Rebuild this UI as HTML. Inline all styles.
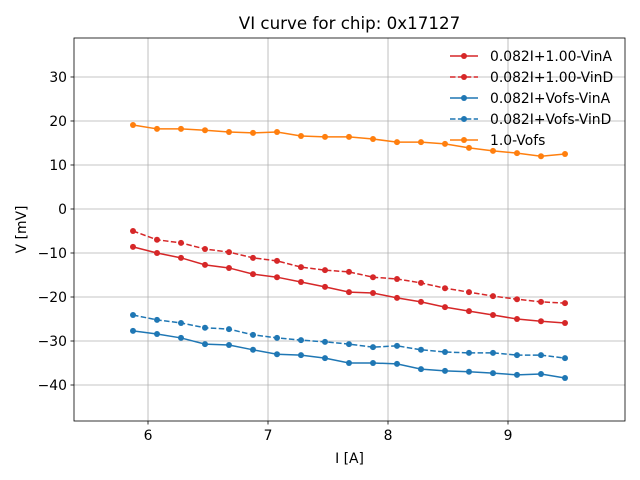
<!DOCTYPE html>
<html><head><meta charset="utf-8"><style>
html,body{margin:0;padding:0;background:#fff;}
svg{display:block;font-family:"DejaVu Sans","Liberation Sans",sans-serif;}
</style></head><body>
<svg id="chart" width="640" height="480" viewBox="0 0 640 480" xmlns="http://www.w3.org/2000/svg"></svg>
<script>
const currents = [5.875,6.075,6.275,6.475,6.675,6.875,7.075,7.275,7.475,7.675,7.875,8.075,8.275,8.475,8.675,8.875,9.075,9.275,9.475];
const redSolid = [-8.6,-10,-11.1,-12.7,-13.4,-14.8,-15.5,-16.6,-17.7,-18.9,-19.1,-20.2,-21.1,-22.3,-23.2,-24.1,-25,-25.5,-25.9];
const redDashed = [-5,-7,-7.7,-9.1,-9.8,-11.1,-11.8,-13.2,-13.9,-14.3,-15.5,-15.9,-16.8,-18,-18.9,-19.8,-20.5,-21.1,-21.4];
const blueSolid = [-27.7,-28.4,-29.3,-30.7,-30.9,-32,-33,-33.2,-33.9,-35,-35,-35.2,-36.4,-36.8,-37,-37.3,-37.7,-37.5,-38.4];
const blueDashed = [-24.1,-25.2,-25.9,-27,-27.3,-28.6,-29.3,-29.8,-30.2,-30.7,-31.4,-31.1,-32,-32.5,-32.7,-32.7,-33.2,-33.2,-33.9];
const orange = [19.1,18.2,18.2,17.9,17.5,17.3,17.5,16.6,16.4,16.4,15.9,15.2,15.2,14.8,13.9,13.2,12.7,12.0,12.5];
const xTicks = [6,7,8,9];
const yTicks = [30,20,10,0,-10,-20,-30,-40];
const seriesNames = ["0.082I+1.00-VinA","0.082I+1.00-VinD","0.082I+Vofs-VinA","0.082I+Vofs-VinD","1.0-Vofs"];

const L=74,R=625,T=38,B=421;
const xMin=5.3833,xMax=9.975,yMin=-48.18,yMax=38.86;
const sx=v=>L+(v-xMin)/(xMax-xMin)*(R-L);
const sy=v=>B-(v-yMin)/(yMax-yMin)*(B-T);
const svg=document.getElementById('chart');
const NS='http://www.w3.org/2000/svg';
function mk(tag,attrs,parent){const e=document.createElementNS(NS,tag);for(const k in attrs)e.setAttribute(k,attrs[k]);(parent||svg).appendChild(e);return e;}

for(const t of xTicks){
  const g=mk('line',{x1:sx(t),x2:sx(t),y1:T,y2:B,stroke:'#b0b0b0','stroke-width':0.8});
  
  
  mk('line',{x1:sx(t),x2:sx(t),y1:B,y2:B+3.5,stroke:'#000','stroke-width':0.8});
  const tx=mk('text',{x:sx(t),y:B+19,'text-anchor':'middle','font-size':13.9,fill:'#000'});
  tx.textContent=t;
  
  
}
for(const t of yTicks){
  const g=mk('line',{x1:L,x2:R,y1:sy(t),y2:sy(t),stroke:'#b0b0b0','stroke-width':0.8});
  
  
  mk('line',{x1:L-3.5,x2:L,y1:sy(t),y2:sy(t),stroke:'#000','stroke-width':0.8});
  const tx=mk('text',{x:L-7,y:sy(t)+5,'text-anchor':'end','font-size':13.9,fill:'#000'});
  tx.textContent=t===0?'0':(t<0?'\u2212'+(-t):t);
  
  
}
const series=[
  {d:redSolid,c:'#d62728',dash:null,n:'red-solid-series'},
  {d:redDashed,c:'#d62728',dash:'5.5,2.4',n:'red-dashed-series'},
  {d:blueSolid,c:'#1f77b4',dash:null,n:'blue-solid-series'},
  {d:blueDashed,c:'#1f77b4',dash:'5.5,2.4',n:'blue-dashed-series'},
  {d:orange,c:'#ff7f0e',dash:null,n:'orange-series'}];
for(const s of series){
  const g=mk('g',{});
  
  
  const pts=s.d.map((v,i)=>sx(currents[i])+','+sy(v)).join(' ');
  const a={points:pts,fill:'none',stroke:s.c,'stroke-width':1.5};
  if(s.dash)a['stroke-dasharray']=s.dash;
  mk('polyline',a,g);
  s.d.forEach((v,i)=>{
    const c=mk('circle',{cx:sx(currents[i]),cy:sy(v),r:3,fill:s.c},g);
    
    
  });
}
const frame=mk('rect',{x:L,y:T,width:R-L,height:B-T,fill:'none',stroke:'#000','stroke-width':0.8});



const title=mk('text',{x:(L+R)/2,y:29,'text-anchor':'middle','font-size':16.7,fill:'#000'});
title.textContent='VI curve for chip: 0x17127';


const xl=mk('text',{x:(L+R)/2,y:463,'text-anchor':'middle','font-size':13.9,fill:'#000'});
xl.textContent='I [A]';


const yl=mk('text',{x:0,y:0,'text-anchor':'middle','font-size':13.9,fill:'#000',transform:'translate(26,'+((T+B)/2)+') rotate(-90)'});
yl.textContent='V [mV]';



const leg=mk('g',{});


series.forEach((s,i)=>{
  const y=56+i*21;
  const e=mk('g',{},leg);
  
  
  const a={x1:450,x2:478,y1:y,y2:y,stroke:s.c,'stroke-width':1.5};
  if(s.dash)a['stroke-dasharray']=s.dash;
  mk('line',a,e);
  mk('circle',{cx:464,cy:y,r:3,fill:s.c},e);
  const t=mk('text',{x:490,y:y+5,'font-size':13.9,fill:'#000'},e);
  t.textContent=seriesNames[i];
});
</script>
</body></html>
